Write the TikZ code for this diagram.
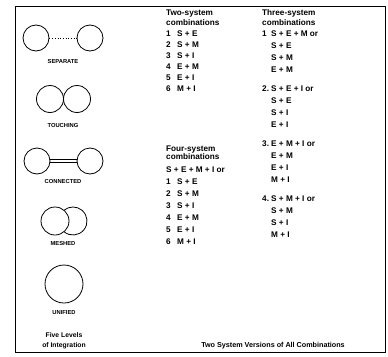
\documentclass[tikz,border=0pt]{standalone}
\usepackage{fontspec}
\setmainfont{Liberation Sans}
\usetikzlibrary{calc}
\begin{document}
\begin{tikzpicture}[x=1pt,y=-1pt,
  ring/.style={draw,circle,inner sep=0pt,line width=0.8pt},
  lbl/.style={font=\fontsize{5.8}{6}\selectfont\bfseries,inner sep=0pt,anchor=base},
  txt/.style={font=\fontsize{8.2}{9}\selectfont\bfseries,inner sep=0pt,anchor=base west},
  ttl/.style={font=\fontsize{7.2}{8}\selectfont\bfseries,inner sep=0pt,anchor=base}]
\useasboundingbox (0,0) rectangle (388,356);
\draw[line width=0.8pt] (15,6) rectangle (385,352);
% separate
\node[ring,minimum size=26pt] (s1) at (36,38) {};
\node[ring,minimum size=26pt] (s2) at (90,38) {};
\draw[dotted,line width=0.7pt] (s1) -- (s2);
\node[lbl] (sl) at (63,63) {SEPARATE};
% touching
\node[ring,minimum size=27pt] (t1) at (50,99) {};
\node[ring,minimum size=27pt] (t2) at (77,99) {};
\node[lbl] (tl) at (63,127) {TOUCHING};
% connected
\node[ring,minimum size=26pt] (c1) at (37,161) {};
\node[ring,minimum size=26pt] (c2) at (90,161) {};
\draw[line width=0.8pt] ([yshift=-1.3pt]c1.east) -- ([yshift=-1.3pt]c2.west);
\draw[line width=0.8pt] ([yshift=1.3pt]c1.east) -- ([yshift=1.3pt]c2.west);
\node[lbl] (cl) at (63,183) {CONNECTED};
% meshed
\node[ring,minimum size=28pt] (m1) at (55,221) {};
\coordinate (m2) at (73,221);
\draw[line width=0.8pt] ($(m2)+(130:14)$) arc[start angle=130,end angle=-130,radius=14];
\node[lbl] (ml) at (63,245) {MESHED};
% unified
\node[ring,minimum size=38pt] (u1) at (64,284) {};
\node[lbl] (ul) at (64,314) {UNIFIED};
\node[lbl,font=\fontsize{6.8}{7}\selectfont\bfseries] (f1) at (64,337) {Five Levels};
\node[lbl,font=\fontsize{6.8}{7}\selectfont\bfseries] (f2) at (64,347) {of Integration};
% middle column
\node[txt] (a0) at (166,16) {Two-system};
\node[txt] (a00) at (166,25) {combinations};
\foreach \n/\e/\y in {1/S + E/36,2/S + M/47,3/S + I/58,4/E + M/69,5/E + I/80,6/M + I/91}{
  \node[txt] (an\n) at (166,\y) {\n};
  \node[txt] (ae\n) at (177,\y) {\e};
}
\node[txt] (b0) at (166,151) {Four-system};
\node[txt] (b00) at (166,159) {combinations};
\node[txt] (b000) at (166,172) {S + E + M + I or};
\foreach \n/\e/\y in {1/S + E/184,2/S + M/196,3/S + I/208,4/E + M/220,5/E + I/232,6/M + I/244}{
  \node[txt] (bn\n) at (166,\y) {\n};
  \node[txt] (be\n) at (177,\y) {\e};
}
% right column
\node[txt] (r0) at (262,16) {Three-system};
\node[txt] (r00) at (262,25) {combinations};
\node[txt] (rn1) at (262,36) {1};
\node[txt] (rh1) at (271,36) {S + E + M or};
\node[txt] (r11) at (271,48) {S + E};
\node[txt] (r12) at (271,60) {S + M};
\node[txt] (r13) at (271,72) {E + M};
\node[txt] (rn2) at (262,91) {2.};
\node[txt] (rh2) at (271,91) {S + E + I or};
\node[txt] (r21) at (271,103) {S + E};
\node[txt] (r22) at (271,115) {S + I};
\node[txt] (r23) at (271,127) {E + I};
\node[txt] (rn3) at (262,146) {3.};
\node[txt] (rh3) at (271,146) {E + M + I or};
\node[txt] (r31) at (271,158) {E + M};
\node[txt] (r32) at (271,170) {E + I};
\node[txt] (r33) at (271,182) {M + I};
\node[txt] (rn4) at (262,201) {4.};
\node[txt] (rh4) at (271,201) {S + M + I or};
\node[txt] (r41) at (271,213) {S + M};
\node[txt] (r42) at (271,225) {S + I};
\node[txt] (r43) at (271,237) {M + I};
\node[ttl] (tt) at (273,347) {Two System Versions of All Combinations};
\end{tikzpicture}
\end{document}
